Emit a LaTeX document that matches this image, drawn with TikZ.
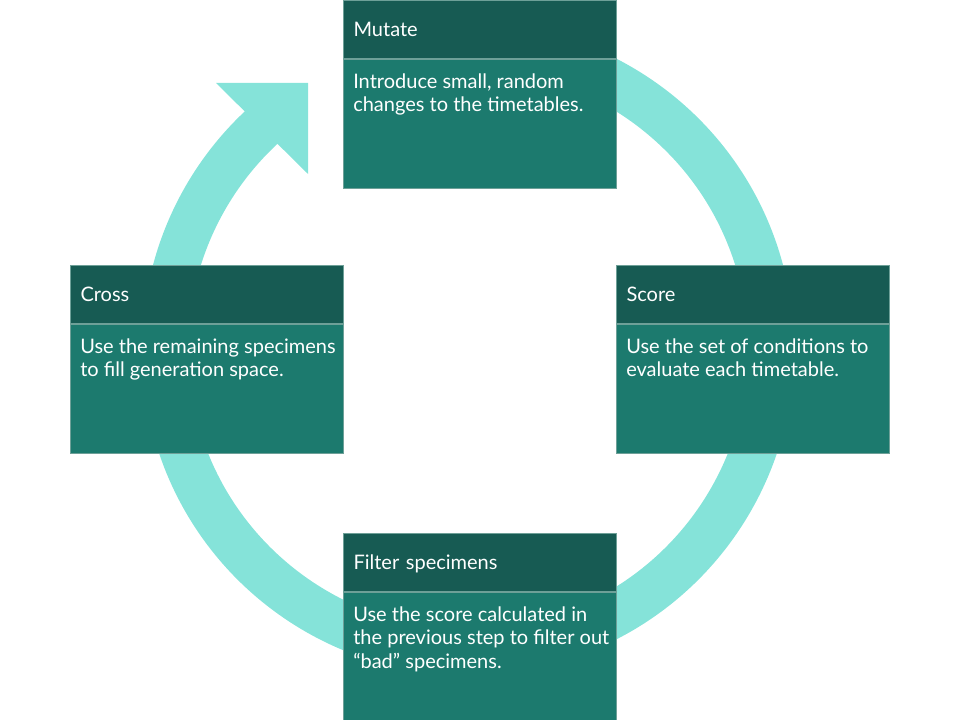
\documentclass[tikz,border=0pt]{standalone}
\usepackage{fontspec}
\setmainfont{Lato}
\usepackage{tikz}
\usetikzlibrary{calc, positioning}

\begin{document}
\begin{tikzpicture}[x=0.75pt, y=0.75pt,
    stephead/.style={fill=headfill, draw=edgeline, line width=0.75pt, anchor=north west,
        text=white, text width=189.75pt, inner xsep=7.5pt, inner ysep=0pt, align=left,
        minimum height=43.5pt, text height=10.75pt, text depth=0pt, font=\fontsize{15}{17.5}\selectfont},
    stepbody/.style={fill=bodyfill, draw=edgeline, line width=0.75pt,
        minimum width=204.75pt, minimum height=96.75pt, inner sep=0pt},
    steptext/.style={text=white, inner sep=0pt, align=left, font=\fontsize{15}{17.5}\selectfont}]
    % Màu sắc
    \definecolor{headfill}{RGB}{23, 91, 83}
    \definecolor{bodyfill}{RGB}{28, 122, 110}
    \definecolor{edgeline}{RGB}{110, 160, 152}
    \definecolor{ringfill}{RGB}{133, 227, 217}

    \useasboundingbox (0,0) rectangle (960,720);

    % 1. Vòng tròn mũi tên
    \coordinate (o) at (468,371);
    \draw[ringfill, line width=34.5pt] (o) ++(100:303) arc[start angle=100, end angle=-228, radius=303];
    \fill[ringfill] (216,637) -- (308,637) -- (308,546) -- cycle;

    % 2. Mutate
    \node[stephead] (muthead) at (343,720) {Mutate};
    \node[stepbody, below=0pt of muthead] (mutbody) {};
    \node[steptext, below right=10.9pt and 7.5pt of mutbody.north west] (muttext)
        {Introduce small, random\\changes to the timetables.};

    % 3. Score
    \node[stephead] (scohead) at (616,455) {Score};
    \node[stepbody, below=0pt of scohead] (scobody) {};
    \node[steptext, below right=10.9pt and 7.5pt of scobody.north west] (scotext)
        {Use the set of conditions to\\evaluate each timetable.};

    % 4. Cross
    \node[stephead] (crohead) at (70,455) {Cross};
    \node[stepbody, below=0pt of crohead] (crobody) {};
    \node[steptext, below right=10.9pt and 7.5pt of crobody.north west] (crotext)
        {Use the remaining specimens\\to fill generation space.};

    % 5. Filter specimens
    \node[stephead] (filhead) at (343,187) {Filter specimens};
    \node[stepbody, below=0pt of filhead] (filbody) {};
    \node[steptext, below right=10.9pt and 7.5pt of filbody.north west] (filtext)
        {Use the score calculated in\\the previous step to filter out\\``bad'' specimens.};
\end{tikzpicture}
\end{document}
